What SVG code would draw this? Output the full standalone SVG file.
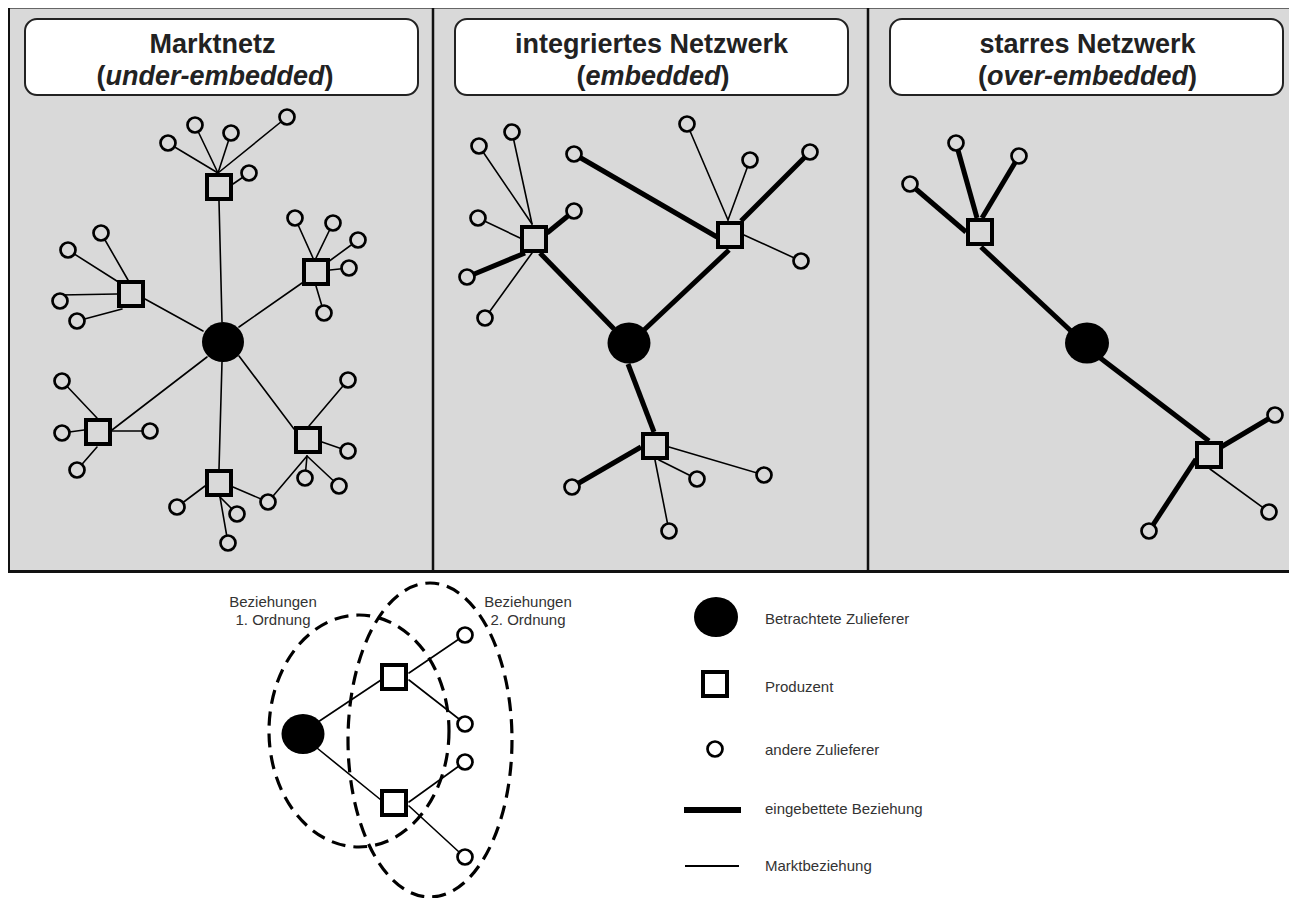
<svg xmlns="http://www.w3.org/2000/svg" width="1289" height="898" viewBox="0 0 1289 898">
  <style>
    .bg { fill: #d9d9d9; }
    .frame { stroke: #111; fill: none; }
    .title-box { fill: #fff; stroke: #222; stroke-width: 2; }
    .title { font-family: "Liberation Sans", Arial, sans-serif; font-size: 27px; font-weight: bold; fill: #222; text-anchor: middle; }
    .label { font-family: "Liberation Sans", Arial, sans-serif; font-size: 15px; fill: #333; }
    .mid { text-anchor: middle; }
    .thin { stroke: #000; stroke-width: 1.6; fill: none; stroke-linecap: round; }
    .thick { stroke: #000; stroke-width: 5; fill: none; stroke-linecap: butt; }
    .focus { fill: #000; }
    .prod { fill: #d9d9d9; stroke: #000; stroke-width: 4; }
    .other { fill: #d9d9d9; stroke: #000; stroke-width: 2.7; }
    .prod-w { fill: #fff; stroke: #000; stroke-width: 4; }
    .other-w { fill: #fff; stroke: #000; stroke-width: 2.7; }
    .ring { fill: none; stroke: #000; stroke-width: 3.2; stroke-dasharray: 14 8; }
  </style>

  <!-- panel background and frame -->
  <g id="frame">
    <rect class="bg" x="8" y="8" width="1281" height="564"/>
    <line x1="8" y1="8.5" x2="1289" y2="8.5" stroke="#666" stroke-width="1.2"/>
    <line class="frame" x1="9" y1="8" x2="9" y2="572" stroke-width="2"/>
    <line class="frame" x1="8" y1="571.5" x2="1289" y2="571.5" stroke-width="3"/>
    <line class="frame" x1="433" y1="8" x2="433" y2="572" stroke-width="2.5"/>
    <line class="frame" x1="868" y1="8" x2="868" y2="572" stroke-width="2.5"/>
  </g>

  <!-- panel titles -->
  <g id="title-markt">
    <rect class="title-box" x="25" y="19" width="393" height="76" rx="12"/>
    <text class="title" x="212.5" y="53">Marktnetz</text>
    <text class="title" x="215" y="85">(<tspan font-style="italic">under-embedded</tspan>)</text>
  </g>
  <g id="title-integriert">
    <rect class="title-box" x="455" y="19" width="393" height="76" rx="12"/>
    <text class="title" x="651.5" y="53">integriertes Netzwerk</text>
    <text class="title" x="653" y="85">(<tspan font-style="italic">embedded</tspan>)</text>
  </g>
  <g id="title-starr">
    <rect class="title-box" x="890" y="19" width="393" height="76" rx="12"/>
    <text class="title" x="1087.5" y="53">starres Netzwerk</text>
    <text class="title" x="1087.5" y="85">(<tspan font-style="italic">over-embedded</tspan>)</text>
  </g>

  <!-- connectors -->
  <g id="connectors">
    <!-- Marktnetz -->
    <line class="thin" x1="222" y1="322" x2="219" y2="201"/>
    <line class="thin" x1="239" y1="327" x2="302" y2="283"/>
    <line class="thin" x1="203" y1="331" x2="145" y2="299"/>
    <line class="thin" x1="207" y1="357" x2="112" y2="430"/>
    <line class="thin" x1="222" y1="362" x2="219" y2="469"/>
    <line class="thin" x1="239" y1="356" x2="294" y2="429"/>

    <line class="thin" x1="218" y1="173" x2="168" y2="143"/>
    <line class="thin" x1="218" y1="173" x2="195" y2="125"/>
    <line class="thin" x1="218" y1="173" x2="231" y2="133"/>
    <line class="thin" x1="218" y1="173" x2="287" y2="117"/>
    <line class="thin" x1="233" y1="184" x2="249" y2="173"/>

    <line class="thin" x1="313" y1="258" x2="295" y2="218"/>
    <line class="thin" x1="316" y1="258" x2="333" y2="223"/>
    <line class="thin" x1="328" y1="262" x2="358" y2="240"/>
    <line class="thin" x1="330" y1="270" x2="349" y2="268"/>
    <line class="thin" x1="316" y1="286" x2="324" y2="313"/>

    <line class="thin" x1="120" y1="283" x2="68" y2="250"/>
    <line class="thin" x1="128" y1="280" x2="101" y2="233"/>
    <line class="thin" x1="117" y1="294" x2="60" y2="295"/>
    <line class="thin" x1="122" y1="309" x2="77" y2="321"/>

    <line class="thin" x1="97" y1="418" x2="62" y2="381"/>
    <line class="thin" x1="84" y1="430" x2="62" y2="433"/>
    <line class="thin" x1="112" y1="431" x2="150" y2="431"/>
    <line class="thin" x1="97" y1="447" x2="77" y2="470"/>

    <line class="thin" x1="205" y1="486" x2="177" y2="507"/>
    <line class="thin" x1="220" y1="497" x2="237" y2="514"/>
    <line class="thin" x1="220" y1="497" x2="228" y2="543"/>
    <line class="thin" x1="233" y1="487" x2="268" y2="502"/>

    <line class="thin" x1="309" y1="426" x2="348" y2="380"/>
    <line class="thin" x1="322" y1="442" x2="348" y2="451"/>
    <line class="thin" x1="307" y1="456" x2="305" y2="478"/>
    <line class="thin" x1="307" y1="456" x2="339" y2="486"/>
    <line class="thin" x1="307" y1="456" x2="268" y2="502"/>

    <!-- integriertes Netzwerk -->
    <line class="thick" x1="614" y1="329" x2="540" y2="253"/>
    <line class="thick" x1="644" y1="330" x2="729" y2="250"/>
    <line class="thick" x1="628" y1="364" x2="654" y2="432"/>

    <line class="thin" x1="532" y1="224" x2="479" y2="146"/>
    <line class="thin" x1="532" y1="224" x2="512" y2="132"/>
    <line class="thin" x1="520" y1="238" x2="478" y2="218"/>
    <line class="thick" x1="547" y1="233" x2="574" y2="211"/>
    <line class="thick" x1="525" y1="253" x2="467" y2="277"/>
    <line class="thin" x1="532" y1="253" x2="485" y2="318"/>

    <line class="thin" x1="728" y1="220" x2="687" y2="124"/>
    <line class="thin" x1="728" y1="220" x2="750" y2="160"/>
    <line class="thick" x1="741" y1="221" x2="810" y2="152"/>
    <line class="thick" x1="717" y1="237" x2="574" y2="154"/>
    <line class="thin" x1="744" y1="235" x2="801" y2="261"/>

    <line class="thick" x1="641" y1="447" x2="572" y2="487"/>
    <line class="thin" x1="659" y1="460" x2="697" y2="479"/>
    <line class="thin" x1="669" y1="447" x2="764" y2="475"/>
    <line class="thin" x1="655" y1="460" x2="669" y2="531"/>

    <!-- starres Netzwerk -->
    <line class="thick" x1="966" y1="232" x2="910" y2="184"/>
    <line class="thick" x1="977" y1="218" x2="956" y2="143"/>
    <line class="thick" x1="982" y1="218" x2="1019" y2="156"/>
    <line class="thick" x1="981" y1="247" x2="1072" y2="332"/>
    <line class="thick" x1="1099" y1="357" x2="1209" y2="441"/>
    <line class="thick" x1="1221" y1="447" x2="1275" y2="415"/>
    <line class="thin" x1="1210" y1="469" x2="1269" y2="512"/>
    <line class="thick" x1="1196" y1="459" x2="1149" y2="531"/>

    <!-- Ordnungsbeispiel -->
    <line class="thin" x1="318" y1="722" x2="381" y2="680"/>
    <line class="thin" x1="317" y1="748" x2="381" y2="800"/>
    <line class="thin" x1="409" y1="673" x2="459" y2="639"/>
    <line class="thin" x1="409" y1="680" x2="459" y2="719"/>
    <line class="thin" x1="409" y1="802" x2="459" y2="766"/>
    <line class="thin" x1="409" y1="806" x2="459" y2="852"/>

    <!-- Legende -->
    <line x1="684" y1="810" x2="741" y2="810" stroke="#000" stroke-width="6"/>
    <line x1="685" y1="866" x2="739" y2="866" stroke="#000" stroke-width="1.8"/>
  </g>

  <!-- Marktnetz nodes -->
  <g id="m-focus"><ellipse class="focus" cx="223" cy="342" rx="21" ry="20"/></g>
  <g id="m-prod-top"><rect class="prod" x="207" y="175" width="24" height="24"/></g>
  <g id="m-prod-right"><rect class="prod" x="304" y="260" width="24" height="24"/></g>
  <g id="m-prod-left"><rect class="prod" x="119" y="282" width="24" height="24"/></g>
  <g id="m-prod-lowleft"><rect class="prod" x="86" y="420" width="24" height="24"/></g>
  <g id="m-prod-bottom"><rect class="prod" x="207" y="471" width="24" height="24"/></g>
  <g id="m-prod-lowright"><rect class="prod" x="296" y="428" width="24" height="24"/></g>
  <g id="m-others">
    <circle class="other" cx="168" cy="143" r="7.5"/>
    <circle class="other" cx="195" cy="125" r="7.5"/>
    <circle class="other" cx="231" cy="133" r="7.5"/>
    <circle class="other" cx="287" cy="117" r="7.5"/>
    <circle class="other" cx="249" cy="173" r="7.5"/>
    <circle class="other" cx="295" cy="218" r="7.5"/>
    <circle class="other" cx="333" cy="223" r="7.5"/>
    <circle class="other" cx="358" cy="240" r="7.5"/>
    <circle class="other" cx="349" cy="268" r="7.5"/>
    <circle class="other" cx="324" cy="313" r="7.5"/>
    <circle class="other" cx="68" cy="250" r="7.5"/>
    <circle class="other" cx="101" cy="233" r="7.5"/>
    <circle class="other" cx="60" cy="301" r="7.5"/>
    <circle class="other" cx="77" cy="321" r="7.5"/>
    <circle class="other" cx="62" cy="381" r="7.5"/>
    <circle class="other" cx="62" cy="433" r="7.5"/>
    <circle class="other" cx="150" cy="431" r="7.5"/>
    <circle class="other" cx="77" cy="470" r="7.5"/>
    <circle class="other" cx="177" cy="507" r="7.5"/>
    <circle class="other" cx="237" cy="514" r="7.5"/>
    <circle class="other" cx="228" cy="543" r="7.5"/>
    <circle class="other" cx="268" cy="502" r="7.5"/>
    <circle class="other" cx="348" cy="380" r="7.5"/>
    <circle class="other" cx="348" cy="451" r="7.5"/>
    <circle class="other" cx="305" cy="478" r="7.5"/>
    <circle class="other" cx="339" cy="486" r="7.5"/>
  </g>

  <!-- integriertes Netzwerk nodes -->
  <g id="i-focus"><ellipse class="focus" cx="629" cy="343" rx="21.5" ry="20.5"/></g>
  <g id="i-prod-left"><rect class="prod" x="522" y="227" width="24" height="24"/></g>
  <g id="i-prod-right"><rect class="prod" x="718" y="223" width="24" height="24"/></g>
  <g id="i-prod-bottom"><rect class="prod" x="643" y="434" width="24" height="24"/></g>
  <g id="i-others">
    <circle class="other" cx="479" cy="146" r="7.5"/>
    <circle class="other" cx="512" cy="132" r="7.5"/>
    <circle class="other" cx="478" cy="218" r="7.5"/>
    <circle class="other" cx="574" cy="211" r="7.5"/>
    <circle class="other" cx="467" cy="277" r="7.5"/>
    <circle class="other" cx="485" cy="318" r="7.5"/>
    <circle class="other" cx="687" cy="124" r="7.5"/>
    <circle class="other" cx="750" cy="160" r="7.5"/>
    <circle class="other" cx="810" cy="152" r="7.5"/>
    <circle class="other" cx="574" cy="154" r="7.5"/>
    <circle class="other" cx="801" cy="261" r="7.5"/>
    <circle class="other" cx="572" cy="487" r="7.5"/>
    <circle class="other" cx="697" cy="479" r="7.5"/>
    <circle class="other" cx="764" cy="475" r="7.5"/>
    <circle class="other" cx="669" cy="531" r="7.5"/>
  </g>

  <!-- starres Netzwerk nodes -->
  <g id="s-focus"><ellipse class="focus" cx="1087" cy="343" rx="22" ry="20.5"/></g>
  <g id="s-prod-top"><rect class="prod" x="968" y="220" width="24" height="24"/></g>
  <g id="s-prod-bottom"><rect class="prod" x="1197" y="443" width="24" height="24"/></g>
  <g id="s-others">
    <circle class="other" cx="910" cy="184" r="7.5"/>
    <circle class="other" cx="956" cy="143" r="7.5"/>
    <circle class="other" cx="1019" cy="156" r="7.5"/>
    <circle class="other" cx="1275" cy="415" r="7.5"/>
    <circle class="other" cx="1269" cy="512" r="7.5"/>
    <circle class="other" cx="1149" cy="531" r="7.5"/>
  </g>

  <!-- Beziehungen 1. und 2. Ordnung -->
  <g id="ring-first">
    <ellipse class="ring" cx="359" cy="731" rx="90" ry="116"/>
    <text class="label mid" x="273" y="607">Beziehungen</text>
    <text class="label mid" x="273" y="625">1. Ordnung</text>
  </g>
  <g id="ring-second">
    <ellipse class="ring" cx="430" cy="740" rx="82" ry="157"/>
    <text class="label mid" x="528" y="607">Beziehungen</text>
    <text class="label mid" x="528" y="625">2. Ordnung</text>
  </g>
  <g id="o-focus"><ellipse class="focus" cx="303" cy="734" rx="21.5" ry="20"/></g>
  <g id="o-prod-top"><rect class="prod-w" x="382" y="665" width="24" height="24"/></g>
  <g id="o-prod-bottom"><rect class="prod-w" x="382" y="791" width="24" height="24"/></g>
  <g id="o-others">
    <circle class="other-w" cx="465" cy="635" r="7.5"/>
    <circle class="other-w" cx="465" cy="724" r="7.5"/>
    <circle class="other-w" cx="465" cy="762" r="7.5"/>
    <circle class="other-w" cx="465" cy="857" r="7.5"/>
  </g>

  <!-- Legende -->
  <g id="legend-focus">
    <ellipse class="focus" cx="716" cy="617" rx="22" ry="20"/>
    <text class="label" x="765" y="624">Betrachtete Zulieferer</text>
  </g>
  <g id="legend-prod">
    <rect class="prod-w" x="703" y="672" width="24" height="24"/>
    <text class="label" x="765" y="692">Produzent</text>
  </g>
  <g id="legend-other">
    <circle class="other-w" cx="715" cy="749" r="7.5"/>
    <text class="label" x="765" y="755">andere Zulieferer</text>
  </g>
  <g id="legend-embedded">
    <text class="label" x="765" y="814">eingebettete Beziehung</text>
  </g>
  <g id="legend-market">
    <text class="label" x="765" y="871">Marktbeziehung</text>
  </g>
</svg>
